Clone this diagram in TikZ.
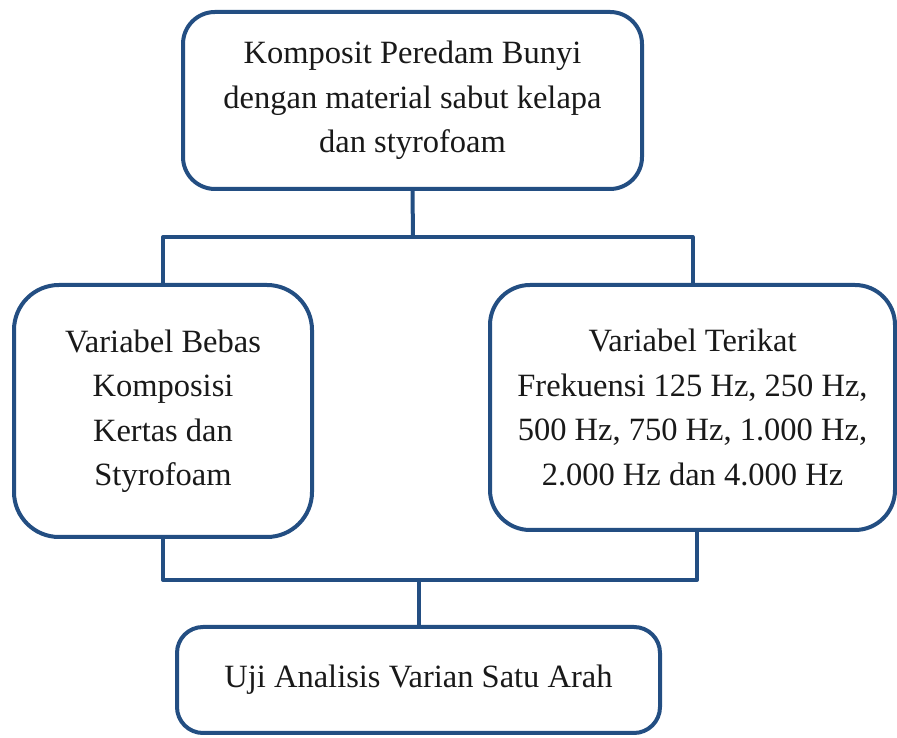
\documentclass[tikz,border=0pt]{standalone}
\usepackage{fontspec}
\setmainfont{Liberation Serif}
\usetikzlibrary{shapes,arrows,positioning}
\usepackage{xcolor}
\definecolor{boxblue}{RGB}{35,78,130}

\begin{document}
\begin{tikzpicture}[x=1pt, y=1pt, line join=round]
        \tikzstyle{box}=[draw=boxblue, line width=4pt, fill=white, align=center, inner sep=0pt,
                         font=\fontsize{32.5}{44.5}\selectfont, text=black!90]
        \tikzstyle{link}=[draw=boxblue, line width=4pt]
        \useasboundingbox (0,0) rectangle (897,738);
        \node[box, rounded corners=32pt, minimum width=459pt, minimum height=177pt] (top)    at (412.5,637.5) {Komposit Peredam Bunyi\\dengan material sabut kelapa\\dan styrofoam};
        \node[box, rounded corners=45pt, minimum width=298pt, minimum height=252pt] (left)   at (163,327)     {Variabel Bebas\\Komposisi\\Kertas dan\\Styrofoam};
        \node[box, rounded corners=40pt, minimum width=405pt, minimum height=245pt] (right)  at (692.5,330.5)  {Variabel Terikat\\Frekuensi 125 Hz, 250 Hz,\\500 Hz, 750 Hz, 1.000 Hz,\\2.000 Hz dan 4.000 Hz};
        \node[box, rounded corners=26pt, minimum width=483pt, minimum height=106pt] (bottom) at (418.5,58)    {Uji Analisis Varian Satu Arah};
        \coordinate (upper) at (413,501);
        \coordinate (lower) at (418.5,158);
        \path
        (top.south)   edge[link]  (upper)
        (bottom.north) edge[link] (lower);
        \draw[link] (left.north) |- (upper) -| (right.north);
        \draw[link] (left.south) |- (lower) -| ([xshift=4.5pt]right.south);
    \end{tikzpicture}
\end{document}
